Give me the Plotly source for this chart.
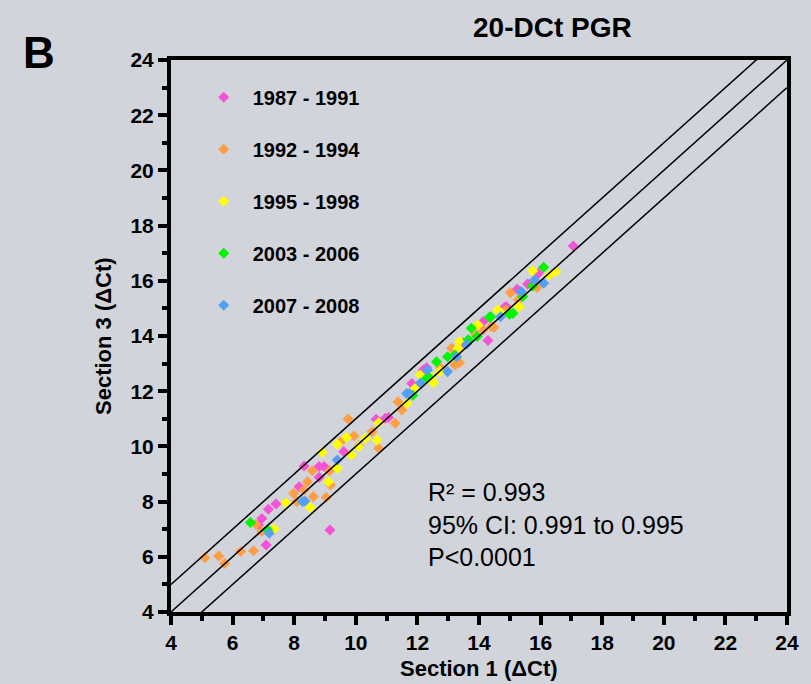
import plotly.graph_objects as go

# ---------------- data ----------------
series_names = ["1987 - 1991", "1992 - 1994", "1995 - 1998", "2003 - 2006", "2007 - 2008"]
series_colors = ["#F553D6", "#FF9F45", "#FFFF00", "#00F500", "#55A0F5"]

s1_x = [7.09, 6.95, 6.84, 7.16, 7.41, 8.16, 8.32, 8.81, 8.97, 8.81, 9.16, 9.61, 10.66, 10.96, 11.06,
        11.82, 12.19, 12.30, 13.50, 14.13, 14.29, 14.83, 14.89, 15.24, 15.58, 15.93, 17.06]
s1_y = [6.43, 7.39, 7.15, 7.72, 7.91, 8.54, 9.29, 9.27, 9.27, 8.88, 6.97, 9.81, 10.98, 11.02, 11.05,
        12.28, 12.77, 12.85, 13.75, 14.52, 13.84, 15.04, 15.06, 15.69, 15.88, 16.27, 17.26]

s2_x = [5.10, 5.55, 5.74, 6.26, 6.68, 6.76, 6.95, 7.98, 8.08, 8.32, 8.43, 8.59, 8.62, 9.04, 9.15, 9.18,
        9.51, 9.75, 9.94, 10.10, 10.53, 10.74, 11.28, 11.37, 11.50, 12.75, 13.11, 13.22, 13.37, 13.90,
        14.13, 14.40, 14.48, 14.88, 15.02, 15.27, 15.88]
s2_y = [5.97, 6.03, 5.76, 6.19, 6.22, 7.17, 6.92, 8.30, 8.00, 8.42, 8.72, 9.12, 8.18, 8.16, 9.12, 8.60,
        10.17, 10.99, 10.38, 10.02, 10.53, 9.93, 10.84, 11.62, 11.32, 12.85, 13.56, 12.95, 13.03, 14.05,
        14.22, 14.34, 14.31, 14.94, 15.57, 15.30, 15.76]

s3_x = [7.35, 7.73, 8.52, 8.91, 9.11, 9.40, 9.40, 9.69, 9.86, 10.10, 10.31, 10.69, 10.74, 11.66, 11.92,
        12.09, 12.45, 12.52, 12.73, 13.32, 13.37, 13.97, 14.61, 14.67, 15.31, 15.74, 16.28, 16.49]
s3_y = [7.01, 7.96, 7.79, 9.79, 8.72, 9.21, 10.08, 10.32, 9.69, 9.99, 10.29, 10.23, 10.86, 11.56, 12.10,
        12.59, 12.50, 12.31, 12.71, 13.55, 13.80, 14.40, 14.94, 14.88, 15.06, 16.36, 16.21, 16.33]

s4_x = [6.58, 7.14, 11.85, 12.30, 12.35, 12.62, 12.98, 13.22, 13.65, 13.75, 13.94, 14.34, 14.38, 14.99,
        15.10, 15.42, 15.74, 16.10]
s4_y = [7.24, 6.97, 11.85, 12.47, 12.53, 13.07, 13.25, 13.31, 13.86, 14.28, 13.98, 14.68, 14.70, 14.79,
        14.82, 15.43, 15.81, 16.49]

s5_x = [7.19, 8.27, 8.35, 9.40, 11.65, 11.74, 12.10, 12.33, 12.98, 13.27, 13.60, 14.70, 15.37, 15.80, 16.10]
s5_y = [6.85, 8.00, 8.02, 9.51, 11.92, 11.92, 12.30, 12.77, 12.71, 13.25, 13.70, 14.70, 15.61, 16.03, 15.91]

series_x = [s1_x, s2_x, s3_x, s4_x, s5_x]
series_y = [s1_y, s2_y, s3_y, s4_y, s5_y]

# identity line and +/- band
line_x = [4, 24]
band_offsets = [1, 0, -1]

axis_ticks = [4, 6, 8, 10, 12, 14, 16, 18, 20, 22, 24]

stats_text = "R² = 0.993<br>95% CI: 0.991 to 0.995<br>P<0.0001"

# ---------------- figure ----------------
BG = "#D1D4DB"
FONT = "Liberation Sans, Arial, sans-serif"

fig = go.Figure()

for i, (name, col) in enumerate(zip(series_names, series_colors)):
    fig.add_trace(go.Scatter(
        x=series_x[i], y=series_y[i], mode="markers", name=name,
        legendgroup=name,
        marker=dict(symbol="diamond", size=8.5, color=col, line=dict(width=0)),
    ))

for off in band_offsets:
    fig.add_trace(go.Scatter(
        x=line_x, y=[v + off for v in line_x], mode="lines",
        line=dict(color="black", width=1.5), showlegend=False, hoverinfo="skip",
    ))

axis_common = dict(
    range=[4, 24], tickvals=axis_ticks, ticks="outside", ticklen=9, tickwidth=4,
    tickcolor="black", showline=True, linecolor="black", linewidth=4, mirror=True,
    showgrid=False, zeroline=False,
    tickfont=dict(family=FONT, size=21, color="black", weight="bold"),
    minor=dict(dtick=1, ticks="outside", ticklen=5, tickwidth=4, tickcolor="black", showgrid=False),
)

fig.update_layout(
    width=811, height=684,
    margin=dict(l=171, r=21, t=60, b=72),
    paper_bgcolor=BG, plot_bgcolor=BG,
    font=dict(family=FONT, color="black"),
    xaxis=axis_common,
    yaxis=axis_common,
    showlegend=True,
    legend=dict(
        x=0.0385, y=0.968, xanchor="left", yanchor="top",
        bgcolor="rgba(0,0,0,0)", traceorder="grouped", tracegroupgap=23,
        itemwidth=48,
        font=dict(family=FONT, size=20, color="black", weight="bold"),
    ),
    annotations=[
        dict(text="20-DCt PGR", xref="paper", yref="paper", x=0.62, y=1, yshift=33,
             xanchor="center", yanchor="middle",
             showarrow=False, font=dict(family=FONT, size=28, weight="bold")),
        dict(text="B", xref="paper", yref="paper", x=-0.215, y=1, yshift=8,
             xanchor="center", yanchor="middle",
             showarrow=False, font=dict(family=FONT, size=44, weight="bold")),
        dict(text="Section 1 (ΔCt)", xref="paper", yref="paper", x=0.5, y=0, yshift=-56,
             xanchor="center", yanchor="middle",
             showarrow=False, font=dict(family=FONT, size=22, weight="bold")),
        dict(text="Section 3 (ΔCt)", xref="paper", yref="paper", x=0, y=0.5, xshift=-68,
             xanchor="center", yanchor="middle",
             textangle=-90, showarrow=False, font=dict(family=FONT, size=22, weight="bold")),
        dict(text=stats_text, xref="paper", yref="paper", x=0.4136, y=0.159,
             xanchor="left", yanchor="middle", align="left",
             showarrow=False, font=dict(family=FONT, size=25)),
    ],
)

fig.write_html("out.html", config={"displayModeBar": False},
               post_script="document.body.style.margin='0';")
